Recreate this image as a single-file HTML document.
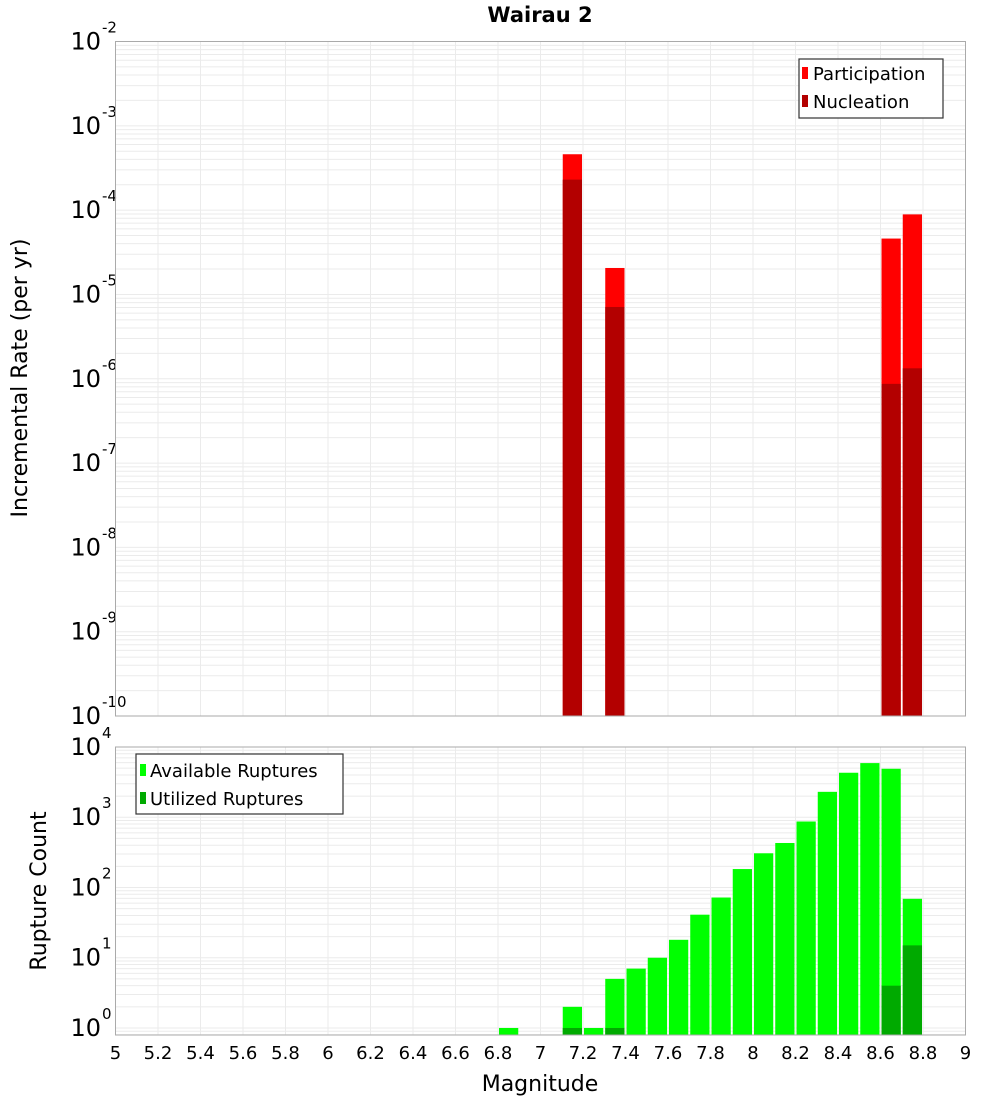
<!DOCTYPE html>
<html><head><meta charset="utf-8"><style>
body{margin:0;background:#fff;}
svg{display:block;font-family:"DejaVu Sans","Liberation Sans",sans-serif;}
</style></head><body>
<svg id="c" width="1000" height="1100" xmlns="http://www.w3.org/2000/svg">
<text x="540" y="22" font-size="21" font-weight="bold" text-anchor="middle">Wairau 2</text>
<g id="topPanel"></g>
<g id="botPanel"></g>
<text transform="translate(27,378) rotate(-90)" font-size="22" text-anchor="middle">Incremental Rate (per yr)</text>
<text transform="translate(46,891) rotate(-90)" font-size="22" text-anchor="middle">Rupture Count</text>
<text x="540" y="1091" font-size="22" text-anchor="middle">Magnitude</text>
<g>
<rect x="799" y="59" width="144" height="59" fill="#fff" stroke="#333" stroke-width="1.2"/>
<rect x="802" y="67" width="6" height="12" fill="#ff0000"/>
<text x="813" y="80" font-size="18">Participation</text>
<rect x="802" y="95" width="6" height="12" fill="#b30000"/>
<text x="813" y="108" font-size="18">Nucleation</text>
</g>
<g>
<rect x="136" y="754" width="207" height="60" fill="#fff" stroke="#333" stroke-width="1.2"/>
<rect x="140" y="764" width="6" height="12" fill="#00ff00"/>
<text x="150" y="777" font-size="18">Available Ruptures</text>
<rect x="140" y="792" width="6" height="12" fill="#00aa00"/>
<text x="150" y="805" font-size="18">Utilized Ruptures</text>
</g>
</svg>
<script>
const xTicks=["5","5.2","5.4","5.6","5.8","6","6.2","6.4","6.6","6.8","7","7.2","7.4","7.6","7.8","8","8.2","8.4","8.6","8.8","9"];
const rateMags=[7.15,7.35,8.65,8.75];
const participation=[4.6e-4,2.06e-5,4.6e-5,8.9e-5];
const nucleation=[2.3e-4,7.1e-6,8.7e-7,1.33e-6];
const countMags=[6.85,7.15,7.25,7.35,7.45,7.55,7.65,7.75,7.85,7.95,8.05,8.15,8.25,8.35,8.45,8.55,8.65,8.75];
const available=[1,2,1,5,7,10,18,41,72,183,307,430,870,2300,4300,5900,4900,69];
const utilized=[0,1,0,1,0,0,0,0,0,0,0,0,0,0,0,0,4,15];
const rateExp=[-2,-3,-4,-5,-6,-7,-8,-9,-10];
const countExp=[4,3,2,1,0];

const NS="http://www.w3.org/2000/svg";
const PL=115.5,PR=965.5;
const X=m=>PL+(m-5)/4*(PR-PL);
function mk(p,t,a){const e=document.createElementNS(NS,t);for(const k in a)e.setAttribute(k,a[k]);p.appendChild(e);return e;}
function panel(g,y0,y1,lmin,lmax,exps,namePre){
  const Y=v=>y1-(Math.log10(v)-lmin)/(lmax-lmin)*(y1-y0);
  for(let d=Math.floor(lmin);d<lmax;d++)for(let k=1;k<10;k++){const lv=d+Math.log10(k);if(lv<lmin||lv>lmax)continue;const y=Y(Math.pow(10,lv));
    const ln=mk(g,'line',{x1:PL,x2:PR,y1:y,y2:y,stroke:'#ebebeb','stroke-width':1});
    
    }
  xTicks.forEach(t=>{const x=X(+t);const ln=mk(g,'line',{x1:x,x2:x,y1:y0,y2:y1,stroke:'#ebebeb','stroke-width':1});
    
    });
  exps.forEach(e=>{const y=Y(Math.pow(10,e));
    const t=mk(g,'text',{x:101,y:y+8,'font-size':24,'text-anchor':'end'});t.textContent='10';
    
    
    const s=mk(g,'text',{x:102,y:y-9,'font-size':15});s.textContent=String(e);
    
    });
  return Y;
}
const topG=document.getElementById('topPanel'),botG=document.getElementById('botPanel');
const Y1=panel(topG,41.5,716,-10,-2,rateExp,'rate');
const bw=(PR-PL)/40-2;
rateMags.forEach((m,i)=>{
  const x=X(m)-bw/2;
  let y=Y1(participation[i]);
  const a=mk(topG,'rect',{x:x,y:y,width:bw,height:716-y,fill:'#ff0000'});
  
  
  y=Y1(nucleation[i]);
  const b=mk(topG,'rect',{x:x,y:y,width:bw,height:716-y,fill:'#b30000'});
  
  
});
mk(topG,'rect',{x:PL,y:41.5,width:PR-PL,height:716-41.5,fill:'none',stroke:'#aaa','stroke-width':1});
const Y2=panel(botG,747,1035,-0.1,4,countExp,'count');
countMags.forEach((m,i)=>{
  const x=X(m)-bw/2;
  let y=Y2(available[i]);
  const a=mk(botG,'rect',{x:x,y:y,width:bw,height:1035-y,fill:'#00ff00'});
  
  
  if(utilized[i]>0){y=Y2(utilized[i]);
    const b=mk(botG,'rect',{x:x,y:y,width:bw,height:1035-y,fill:'#00aa00'});
    
    }
});
mk(botG,'rect',{x:PL,y:747,width:PR-PL,height:1035-747,fill:'none',stroke:'#aaa','stroke-width':1});
xTicks.forEach(t=>{const e=mk(botG,'text',{x:X(+t),y:1059,'font-size':18,'text-anchor':'middle'});e.textContent=t;
  
  });
</script>
</body></html>
